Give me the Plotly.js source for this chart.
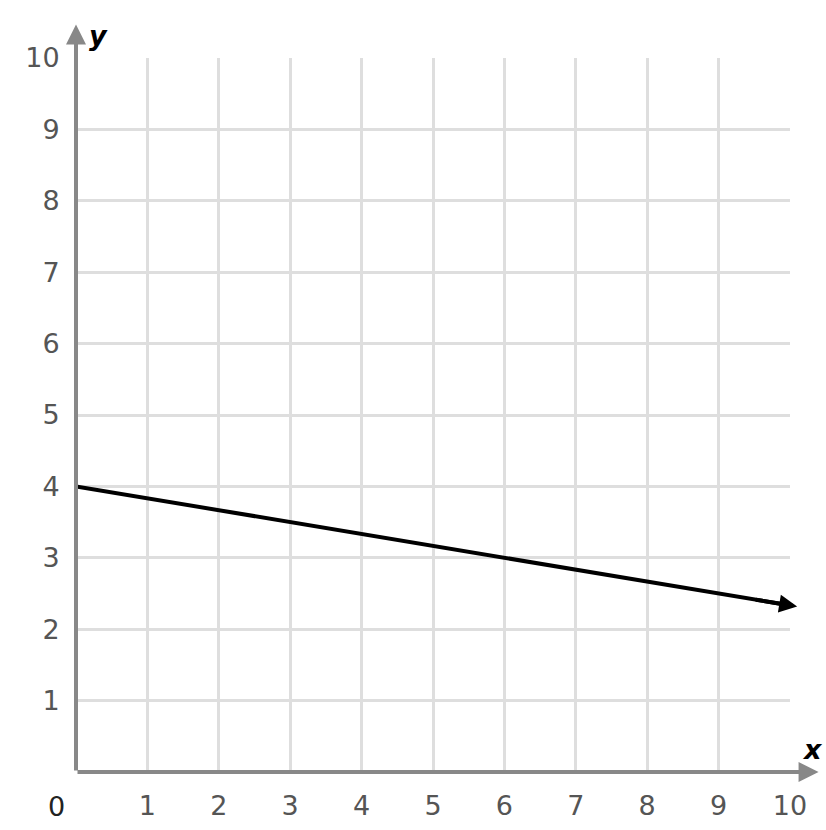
<!DOCTYPE html>
<html><head><meta charset="utf-8">
<script src="https://cdn.plot.ly/plotly-3.0.1.min.js"></script>
<style>html,body{margin:0;padding:0;background:#fff}</style>
</head><body><div id="chart" style="width:826px;height:830px"></div>
<script>
var xTicks = [1,2,3,4,5,6,7,8,9,10];
var yTicks = [1,2,3,4,5,6,7,8,9,10];
var tickLabels = ["1","2","3","4","5","6","7","8","9","10"];
var lineX = [0, 10.1];
var lineY = [4, 2.317];

var FONT = "DejaVu Sans, Verdana, sans-serif";

var data = [{
  x: lineX, y: lineY, type: 'scatter', mode: 'lines',
  line: {color: '#000', width: 4}, hoverinfo: 'skip', cliponaxis: false
}];

var layout = {
  width: 826, height: 830,
  margin: {l: 76, r: 36, t: 58, b: 58},
  paper_bgcolor: '#fff', plot_bgcolor: '#fff',
  showlegend: false,
  font: {family: FONT, size: 27, color: '#555'},
  xaxis: {range: [0, 10], tickvals: xTicks, ticktext: tickLabels,
    showgrid: true, gridcolor: '#dedede', gridwidth: 3,
    zeroline: false, showline: false,
    ticks: 'outside', ticklen: 10, tickcolor: 'rgba(0,0,0,0)',
    tickfont: {family: FONT, size: 27, color: '#555'}, fixedrange: true},
  yaxis: {range: [0, 10], tickvals: yTicks, ticktext: tickLabels,
    showgrid: true, gridcolor: '#dedede', gridwidth: 3,
    zeroline: false, showline: false,
    ticks: 'outside', ticklen: 10, tickcolor: 'rgba(0,0,0,0)',
    tickfont: {family: FONT, size: 27, color: '#555'}, fixedrange: true},
  annotations: [
    {x: 10.4, y: 0, ax: 0, ay: 0, xref: 'x', yref: 'y', axref: 'x', ayref: 'y',
     showarrow: true, arrowhead: 2, arrowsize: 1.0, arrowwidth: 4, arrowcolor: '#888', text: ''},
    {x: 0, y: 10.47, ax: 0, ay: 0, xref: 'x', yref: 'y', axref: 'x', ayref: 'y',
     showarrow: true, arrowhead: 2, arrowsize: 1.0, arrowwidth: 4, arrowcolor: '#888', text: ''},
    {x: lineX[1], y: lineY[1], ax: lineX[1] - 0.6, ay: lineY[1] + 0.1, xref: 'x', yref: 'y', axref: 'x', ayref: 'y',
     showarrow: true, arrowhead: 2, arrowsize: 0.9, arrowwidth: 4, arrowcolor: '#000', text: ''},
    {x: 0, y: 0, xref: 'x', yref: 'y', xshift: -20, yshift: -34, showarrow: false,
     text: '0', font: {family: FONT, size: 27, color: '#222'}},
    {x: 0, y: 10, xref: 'x', yref: 'y', xshift: 22, yshift: 23, showarrow: false,
     text: '<b><i>y</i></b>', font: {family: FONT, size: 27, color: '#000'}},
    {x: 10, y: 0, xref: 'x', yref: 'y', xshift: 22, yshift: 23, showarrow: false,
     text: '<b><i>x</i></b>', font: {family: FONT, size: 27, color: '#000'}}
  ]
};

Plotly.newPlot('chart', data, layout, {displayModeBar: false, staticPlot: true});
</script></body></html>
